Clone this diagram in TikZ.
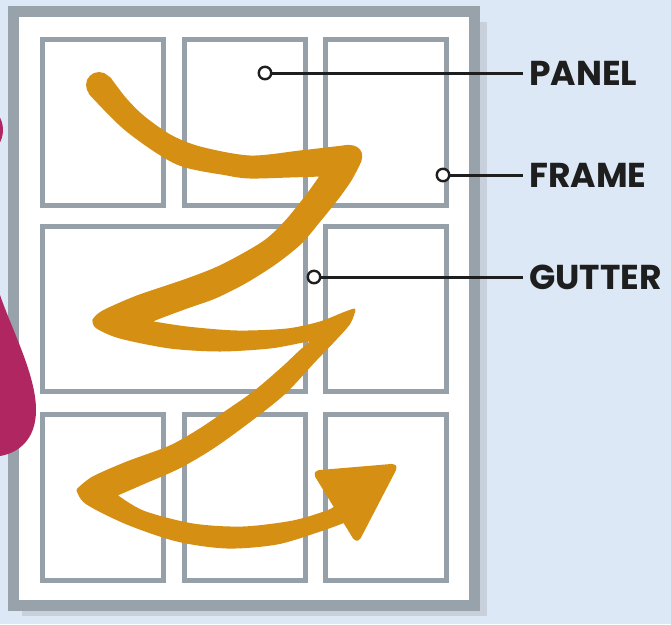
\documentclass[tikz,border=0pt]{standalone}
\usepackage{fontspec}
\setmainfont{Poppins}
\definecolor{bgblue}{RGB}{220,232,245}
\definecolor{pagegray}{RGB}{152,162,171}
\definecolor{shadowgray}{RGB}{200,209,219}
\definecolor{panelgray}{RGB}{150,160,169}
\definecolor{brush}{RGB}{213,143,18}
\definecolor{berry}{RGB}{176,38,96}
\definecolor{ink}{RGB}{30,30,30}
\tikzset{
  panelbox/.style={draw=panelgray, line width=5pt},
  pinball/.style={circle, draw=ink, fill=white, line width=2.4pt, minimum size=12.5pt, inner sep=0pt},
  pinline/.style={draw=ink, line width=3pt, shorten >=6pt},
  tag/.style={anchor=west, inner sep=0pt, text=ink, font=\fontsize{34.5}{36}\selectfont\bfseries},
  brushfill/.style={fill=brush, draw=brush, line width=3pt, line join=round}
}
\begin{document}
\begin{tikzpicture}[x=1pt,y=-1pt]
\useasboundingbox (0,0) rectangle (671,624);
\fill[bgblue] (0,0) rectangle (671,624);
% page shadow and page
\fill[shadowgray] (22,22) rectangle (487,616);
\filldraw[fill=white, draw=pagegray, line width=11pt] (13,11) rectangle (474,605);
% panels
\draw[panelbox] (42,39) rectangle (163,205);
\draw[panelbox] (184,39) rectangle (305,205);
\draw[panelbox] (325,39) rectangle (446,205);
\draw[panelbox] (42,226) rectangle (305,391);
\draw[panelbox] (325,226) rectangle (446,391);
\draw[panelbox] (42,414) rectangle (163,580);
\draw[panelbox] (184,414) rectangle (305,580);
\draw[panelbox] (325,414) rectangle (446,580);
% reading-order brush arrow
\filldraw[brushfill]
  (109,78) -- plot[smooth] coordinates {(109,78) (125,99) (143,117) (170,136) (200,148) (250,157) (300,152) (343,147)}
  .. controls (358,144) and (365,153) .. (358,165)
  -- plot[smooth] coordinates {(358,165) (350,180) (338,197) (318,222) (300,243) (275,263) (245,282) (215,297) (187,307) (160,317) (148,322)}
  -- plot[smooth] coordinates {(148,322) (187,328) (237,332) (287,330) (320,323) (343,314) (354,310)}
  -- plot[smooth] coordinates {(354,310) (349,323) (334,340) (313,362) (284,393) (249,421) (213,447) (179,467) (145,482) (115,495)}
  -- plot[smooth] coordinates {(115,495) (143,512) (193,525) (243,528) (293,522) (327,512) (336,507)}
  -- (352,510) -- (345,521)
  -- plot[smooth] coordinates {(345,521) (320,530) (277,543) (227,547) (177,540) (127,523) (87,503) (78,490)}
  -- plot[smooth] coordinates {(78,490) (93,478) (127,463) (170,447) (200,430) (225,413) (255,392) (283,368) (300,352) (315,339)}
  -- plot[smooth] coordinates {(315,339) (303,341) (270,347) (220,350) (170,347) (120,337) (97,327) (94,320)}
  -- plot[smooth] coordinates {(94,320) (103,312) (137,297) (187,280) (222,266) (263,243) (285,223) (307,196) (322,175)}
  -- plot[smooth] coordinates {(322,175) (290,176) (250,177) (227,174) (177,163) (127,130) (90,93)}
  -- cycle;
\fill[brush] (99,85) circle (13);
\filldraw[brushfill, rounded corners=5pt] (314,472) -- (397,465) -- (357,542) -- cycle;
% berry shape at the left edge
\fill[berry] (-14,130) ellipse (17 and 22);
\fill[berry] (0,295) .. controls (12,330) and (36,375) .. (36,410)
  .. controls (36,440) and (18,453) .. (0,456) -- cycle;
% labels
\node[tag] (ptext) at (529,73) {PANEL};
\node[tag] (ftext) at (529,175) {FRAME};
\node[tag] (gtext) at (529,277) {GUTTER};
\node[pinball] (pdot) at (265,73) {};
\node[pinball] (fdot) at (443,175) {};
\node[pinball] (gdot) at (314,277) {};
\draw[pinline] (pdot) -- (ptext.west);
\draw[pinline] (fdot) -- (ftext.west);
\draw[pinline] (gdot) -- (gtext.west);
\end{tikzpicture}
\end{document}
